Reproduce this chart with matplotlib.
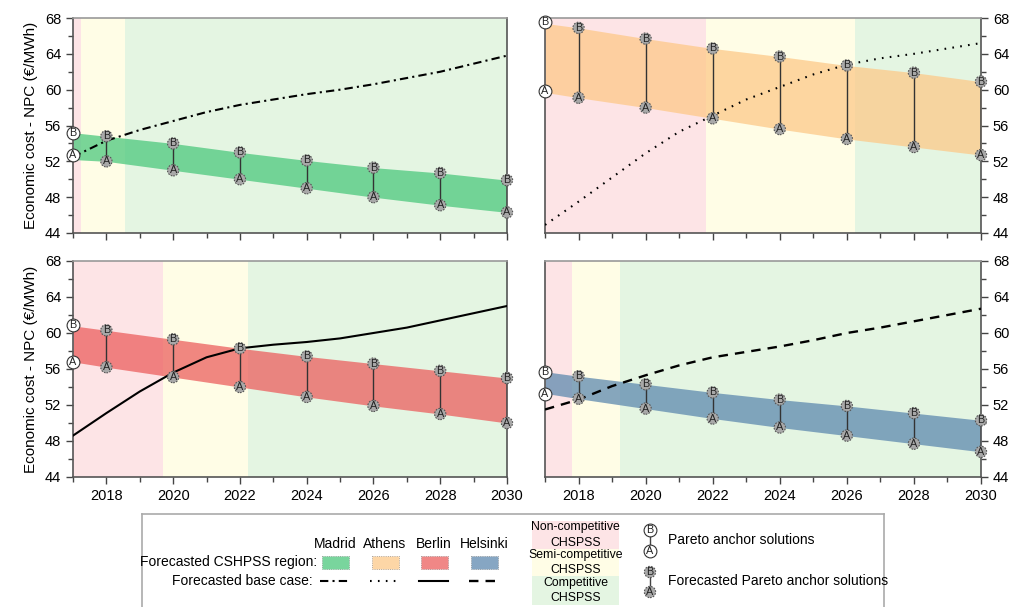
import matplotlib
matplotlib.use('Agg')
import matplotlib.pyplot as plt
from matplotlib.patches import Rectangle
from matplotlib.lines import Line2D
import numpy as np

plt.rcParams['font.family'] = ['Liberation Sans', 'DejaVu Sans']

# ---- data ----
years = list(range(2017, 2031))
fc_years = [2018, 2020, 2022, 2024, 2026, 2028, 2030]
anchor_year = 2017

cities = ['Madrid', 'Athens', 'Berlin', 'Helsinki']

# Pareto anchor solutions at 2017 (B, A)
anchor_B = {'Madrid': 55.2, 'Athens': 67.5, 'Berlin': 60.9, 'Helsinki': 55.7}
anchor_A = {'Madrid': 52.7, 'Athens': 59.8, 'Berlin': 56.8, 'Helsinki': 53.2}

# forecasted Pareto anchor solutions
fc_B = {
    'Madrid':   [54.8, 54.0, 53.0, 52.1, 51.3, 50.7, 49.9],
    'Athens':   [66.9, 65.7, 64.6, 63.7, 62.7, 61.9, 60.9],
    'Berlin':   [60.3, 59.3, 58.3, 57.4, 56.6, 55.8, 55.0],
    'Helsinki': [55.2, 54.3, 53.4, 52.6, 51.9, 51.1, 50.3],
}
fc_A = {
    'Madrid':   [52.0, 51.0, 50.0, 49.0, 48.0, 47.1, 46.3],
    'Athens':   [59.1, 58.0, 56.8, 55.6, 54.5, 53.6, 52.7],
    'Berlin':   [56.2, 55.1, 54.0, 52.9, 51.9, 51.0, 50.0],
    'Helsinki': [52.7, 51.6, 50.5, 49.5, 48.6, 47.7, 46.8],
}
# band edges at 2017
band_top0 = {'Madrid': 55.2, 'Athens': 67.4, 'Berlin': 60.8, 'Helsinki': 55.7}
band_bot0 = {'Madrid': 52.2, 'Athens': 59.7, 'Berlin': 56.8, 'Helsinki': 53.3}

# forecasted base case NPC
base = {
    'Madrid':   [52.5, 54.3, 55.5, 56.5, 57.5, 58.3, 58.9, 59.5, 60.0, 60.6, 61.3, 62.0, 62.9, 63.8],
    'Athens':   [44.9, 47.5, 50.2, 52.9, 55.3, 57.1, 58.9, 60.3, 61.7, 62.8, 63.5, 64.0, 64.6, 65.2],
    'Berlin':   [48.6, 51.1, 53.5, 55.6, 57.3, 58.3, 58.7, 59.0, 59.4, 60.0, 60.6, 61.4, 62.2, 63.0],
    'Helsinki': [51.5, 52.6, 54.1, 55.3, 56.4, 57.3, 57.9, 58.5, 59.2, 60.0, 60.6, 61.3, 62.0, 62.7],
}

# competitiveness regions: end of non-competitive, end of semi-competitive
non_comp_end = {'Madrid': 2017.25, 'Athens': 2021.8, 'Berlin': 2019.7, 'Helsinki': 2017.8}
semi_comp_end = {'Madrid': 2018.55, 'Athens': 2026.25, 'Berlin': 2022.25, 'Helsinki': 2019.25}

# ---- styles ----
band_col = {'Madrid': '#4CC87D', 'Athens': '#FDC989', 'Berlin': '#EC5F5E', 'Helsinki': '#5E89AF'}
base_ls = {'Madrid': (0, (4, 2, 1, 2)), 'Athens': (0, (0.8, 3.0)),
           'Berlin': '-', 'Helsinki': (0, (4, 3))}
base_lw = {'Madrid': 1.5, 'Athens': 1.5, 'Berlin': 1.5, 'Helsinki': 1.7}
c_non, c_semi, c_comp = '#FDE4E6', '#FFFDE6', '#E4F5E2'

fig = plt.figure(figsize=(10.16, 6.07), dpi=100)
W, H = 1016., 607.

def px_axes(x0, y0, x1, y1):
    return fig.add_axes([x0 / W, 1 - y1 / H, (x1 - x0) / W, (y1 - y0) / H])

boxes = {'Madrid': (73, 18, 507, 233), 'Athens': (545, 18, 981, 233),
         'Berlin': (73, 261, 507, 477), 'Helsinki': (545, 261, 981, 477)}


def anchor_marks(ax, x, yb, ya, forecast, z=6):
    if forecast:
        kw = dict(s=66, c='#A8A8A8', edgecolors='#555555', linewidths=0.8,
                  linestyle=(0, (1.5, 1.2)))
    else:
        kw = dict(s=85, c='white', edgecolors='#333333', linewidths=0.8)
    ax.scatter(x, yb, zorder=z, clip_on=False, **kw)
    ax.scatter(x, ya, zorder=z, clip_on=False, **kw)
    for xi, b, a in zip(np.atleast_1d(x), np.atleast_1d(yb), np.atleast_1d(ya)):
        ax.text(xi, b, 'B', ha='center', va='center', fontsize=7.8, color='#222222',
                zorder=z + 1, clip_on=False)
        ax.text(xi, a, 'A', ha='center', va='center', fontsize=7.8, color='#222222',
                zorder=z + 1, clip_on=False)


for i, city in enumerate(cities):
    ax = px_axes(*boxes[city])
    ax.set_xlim(2017, 2030)
    ax.set_ylim(44, 68)

    ax.axvspan(2017, non_comp_end[city], color=c_non, lw=0, zorder=0)
    ax.axvspan(non_comp_end[city], semi_comp_end[city], color=c_semi, lw=0, zorder=0)
    ax.axvspan(semi_comp_end[city], 2030, color=c_comp, lw=0, zorder=0)

    bx = [anchor_year] + fc_years
    top = [band_top0[city]] + fc_B[city]
    bot = [band_bot0[city]] + fc_A[city]
    ax.fill_between(bx, bot, top, color=band_col[city], alpha=0.75, lw=0, zorder=2)

    ax.plot(years, base[city], color='black', ls=base_ls[city], lw=base_lw[city], zorder=4)

    ax.vlines(fc_years, fc_A[city], fc_B[city], color='#333333', lw=1.0, zorder=5)
    anchor_marks(ax, fc_years, fc_B[city], fc_A[city], True)
    anchor_marks(ax, anchor_year, anchor_B[city], anchor_A[city], False, z=8)

    ax.set_xticks(range(2018, 2031, 2))
    ax.set_xticks(range(2017, 2031), minor=True)
    ax.set_yticks(range(44, 69, 4))
    ax.set_yticks(range(44, 69, 2), minor=True)
    ax.tick_params(which='both', direction='out', colors='#444444', labelcolor='black',
                   labelsize=10.5)
    ax.tick_params(which='major', length=5, width=1)
    ax.tick_params(which='minor', length=3.5, width=1)
    if i < 2:
        ax.tick_params(axis='x', labelbottom=False)
    if i % 2 == 1:
        ax.yaxis.tick_right()
        ax.tick_params(axis='y', which='both', right=True, left=False)
    else:
        ax.set_ylabel('Economic cost - NPC (€/MWh)', fontsize=11, labelpad=5)
    for s in ax.spines.values():
        s.set_color('#555555')
        s.set_linewidth(1.2)
    ax.spines['top'].set_color('#999999')

# ---- custom legend ----
lg = fig.add_axes([142 / W, 1 - 612 / H, (884 - 142) / W, (612 - 514) / H])
lg.set_xlim(142, 884)
lg.set_ylim(612, 514)
lg.set_xticks([])
lg.set_yticks([])
for s in lg.spines.values():
    s.set_color('#AAAAAA')
    s.set_linewidth(1.2)

lg.text(317, 562, 'Forecasted CSHPSS region:', ha='right', va='center', fontsize=10)
lg.text(313, 581, 'Forecasted base case:', ha='right', va='center', fontsize=10)
sw_x = {'Madrid': 322, 'Athens': 372, 'Berlin': 421, 'Helsinki': 471}
for city in cities:
    x0 = sw_x[city]
    lg.text(x0 + 13, 544, city, ha='center', va='center', fontsize=10)
    lg.add_patch(Rectangle((x0, 556), 27, 13, facecolor=band_col[city], alpha=0.75,
                           edgecolor='#777777', lw=0.6, ls=':'))
    lg.add_line(Line2D([x0 - 2, x0 + 27], [581, 581], color='black', ls=base_ls[city],
                       lw=base_lw[city]))

stack = [('Non-competitive\nCHSPSS', c_non, 521, 549),
         ('Semi-competitive\nCHSPSS', c_semi, 549, 576),
         ('Competitive\nCHSPSS', c_comp, 576, 605)]
for label, col, y0, y1 in stack:
    lg.add_patch(Rectangle((532, y0), 87, y1 - y0, facecolor=col, lw=0))
    lg.text(575.5, (y0 + y1) / 2, label, ha='center', va='center', fontsize=8.8,
            linespacing=1.35)

lg.plot([650, 650], [530, 551], color='#444444', lw=1)
anchor_marks(lg, 650, 530, 551, False)
lg.plot([650, 650], [572, 592], color='#444444', lw=1)
anchor_marks(lg, 650, 572, 592, True)
lg.text(668, 540, 'Pareto anchor solutions', ha='left', va='center', fontsize=10)
lg.text(668, 581, 'Forecasted Pareto anchor solutions', ha='left', va='center', fontsize=10)

fig.savefig('out.png', dpi=100)
